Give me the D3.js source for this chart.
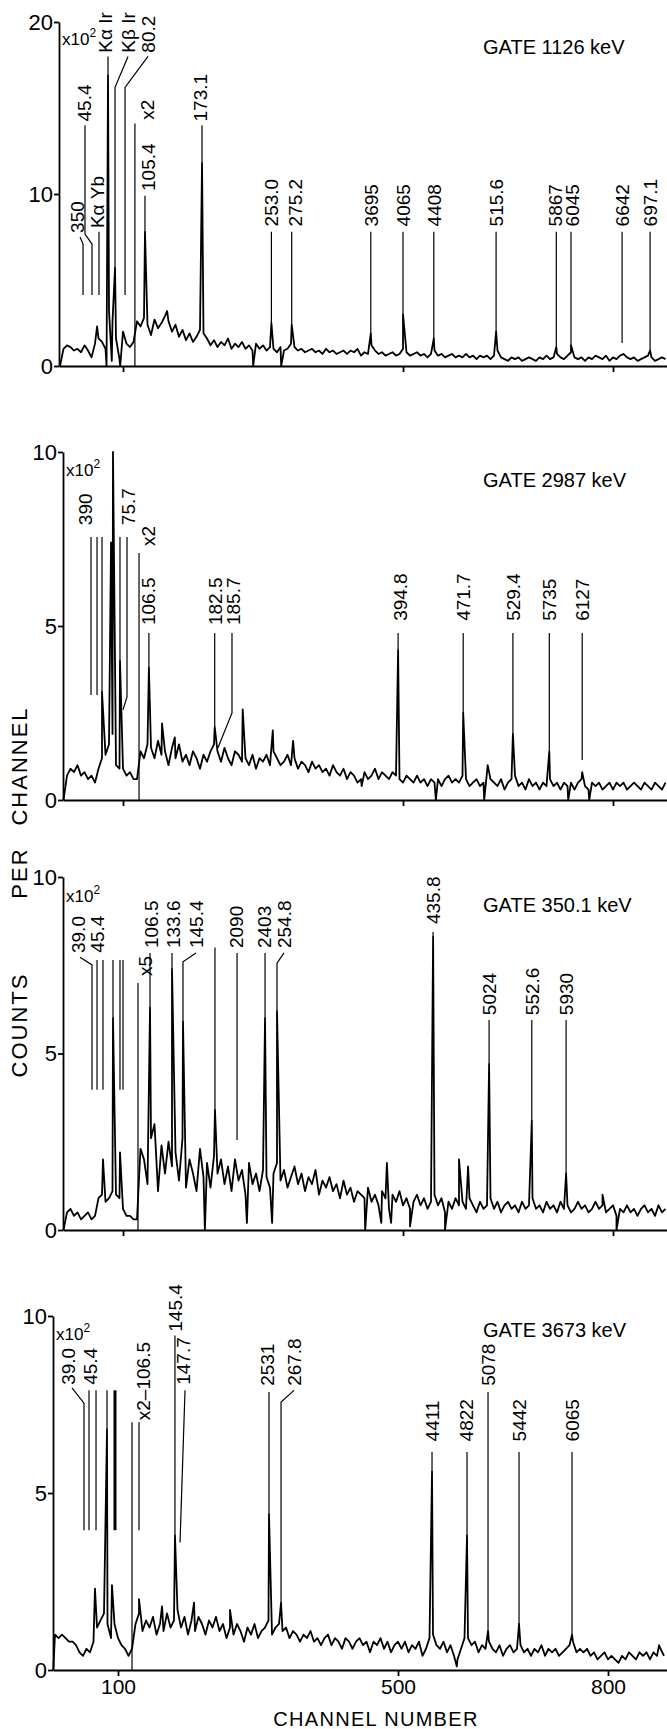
<!DOCTYPE html>
<html>
<head>
<meta charset="utf-8">
<script src="https://cdn.jsdelivr.net/npm/d3@7"></script>
<style>
  body { margin: 0; background: #fff; }
  svg { display: block; }
  text { font-family: "Liberation Sans", Arial, sans-serif; fill: #000; }
</style>
</head>
<body>
<script>
// ---- data (counts in units of 10^2 per channel, already with the x2 / x5 gain applied) ----
const gates = ["GATE 1126 keV", "GATE 2987 keV", "GATE 350.1 keV", "GATE 3673 keV"];
const yMax = [20, 10, 10, 10];
const xTicks = [100, 500, 800];
const startCh = [10, 15, 15, 10];   // channel of first value in each counts array
const stepCh = 5;

const counts1126 = [
  0,1.0,1.2,1.1,0.9,1.0,0.8,1.2,0.9,0.5,
  1.3,1.6,1.4,1.0,3.2,2.6,1.6,0.4,2.0,1.3,
  1.1,1.4,2.6,2.3,2.8,2.4,1.8,2.7,2.2,2.5,
  2.9,2.6,2.0,2.4,1.7,2.1,1.5,1.9,1.4,1.7,
  2.1,1.9,1.6,1.2,1.5,1.1,1.4,1.2,1.6,1.0,
  1.3,1.1,1.4,1.0,1.2,0.9,1.3,1.0,1.2,0.9,
  1.1,1.0,0.8,1.1,0.9,1.0,1.3,1.1,0.9,1.0,
  0.8,0.9,1.0,0.8,0.9,0.7,1.0,0.8,0.9,0.7,
  0.8,0.9,0.7,0.9,0.8,1.0,0.6,0.8,0.7,1.2,
  0.9,0.7,0.8,0.6,0.7,0.8,0.6,0.7,1.0,0.8,
  0.6,0.7,0.8,0.6,0.7,0.5,0.7,0.9,0.6,0.7,
  0.5,0.6,0.7,0.5,0.6,0.5,0.7,0.5,0.6,0.4,
  0.6,0.5,0.6,0.4,0.6,0.9,0.5,0.4,0.3,0.5,
  0.4,0.5,0.3,0.4,0.5,0.4,0.3,0.5,0.4,0.6,
  0.4,0.5,0.7,0.5,0.4,0.6,0.8,0.5,0.4,0.5,
  0.3,0.5,0.4,0.6,0.5,0.4,0.6,0.3,0.5,0.4,
  0.6,0.7,0.5,0.4,0.5,0.3,0.4,0.5,0.6,0.5,
  0.3,0.4,0.5,0.4,0.5
];
const spikes1126 = [[63,2.3],[76.5,0],[78.6,16.9],[84,0.3],[88.6,5.7],[96,0],[131.4,7.8],[163,3.2],
  [212.9,11.8],[286,0],[312,2.5],[326,0],[341,2.4],[454,1.9],[500,3.0],[544,1.6],[633,2.0],
  [719,1.1],[740,1.2],[853,0.9]];

const counts2987 = [
  0,0.7,0.9,0.8,1.0,0.7,0.8,0.6,0.7,0.5,
  0.9,1.2,1.3,1.6,1.9,1.0,0.9,0.9,0.7,0.8,
  0.6,0.6,1.4,1.2,1.6,1.5,1.2,1.7,1.3,1.4,
  1.0,1.5,1.2,1.6,1.1,1.3,1.0,1.4,1.2,0.9,
  1.3,1.1,1.4,1.6,1.4,1.1,1.5,1.2,1.0,1.4,
  1.3,1.1,1.2,1.0,1.3,0.9,1.2,1.1,1.3,1.0,
  1.4,1.2,1.0,1.1,1.3,1.0,1.2,0.9,1.1,1.0,
  0.8,1.1,0.9,1.0,0.8,0.9,0.7,1.0,0.8,0.7,
  0.9,0.6,0.8,0.7,0.5,0.6,0.8,0.6,0.7,0.9,
  0.6,0.8,0.7,0.6,0.8,0.7,0.6,0.5,0.7,0.6,
  0.5,0.7,0.5,0.6,0.4,0.6,0.5,0.6,0.4,0.6,
  0.7,0.5,0.6,0.5,0.7,0.6,0.4,0.5,0.6,0.4,
  0.5,0.8,0.6,0.5,0.4,0.6,0.3,0.5,0.6,0.7,
  0.4,0.5,0.3,0.6,0.4,0.5,0.3,0.5,0.4,0.6,
  0.4,0.5,0.3,0.5,0.4,0.5,0.3,0.5,0.6,0.4,
  0.3,0.5,0.4,0.5,0.3,0.4,0.5,0.3,0.5,0.4,
  0.5,0.3,0.4,0.5,0.4,0.3,0.5,0.4,0.3,0.5,
  0.4,0.3,0.5,0.4
];
const spikes2987 = [[70,3.1],[82.9,7.4],[85.7,10.0],[95.7,4.0],[137,3.8],[155.7,2.2],[174,1.8],
  [231,2.1],[271,2.6],[314,2.0],[343,1.7],[441,0.4],[493,4.3],[547,0],[586,2.5],[616,0],
  [621,1.0],[657,1.9],[709,1.4],[736,0],[756,0.8],[766,0]];

const counts3501 = [
  0,0.5,0.6,0.4,0.5,0.3,0.4,0.5,0.3,0.4,
  0.9,1.0,0.8,0.9,1.1,1.0,0.9,0.6,0.4,0.4,
  0.3,0.3,2.3,2.0,1.3,2.6,3.0,1.1,2.4,1.6,
  2.5,1.8,2.2,1.4,2.6,1.2,2.0,1.6,1.1,2.3,
  1.5,1.9,1.2,2.1,1.6,2.0,1.3,1.8,1.1,2.0,
  1.4,1.7,1.0,1.9,1.3,1.6,1.1,1.7,1.5,1.2,
  1.6,1.9,1.4,1.7,1.2,1.5,1.8,1.3,1.6,1.1,
  1.5,1.3,1.7,1.0,1.4,1.2,1.5,1.1,1.3,0.9,
  1.4,1.0,1.2,0.8,1.1,1.0,0.9,1.2,0.8,1.0,
  0.7,1.1,0.9,0.6,1.0,0.8,1.1,0.7,0.9,0.6,
  0.8,1.0,0.7,0.9,0.6,0.8,1.0,0.7,0.9,0.5,
  0.8,0.6,0.9,0.7,0.8,0.6,0.9,0.7,0.5,0.8,
  0.6,0.7,0.9,0.6,0.8,0.5,0.7,0.8,0.6,0.7,
  0.5,0.8,0.6,0.7,0.9,0.6,0.7,0.5,0.8,0.6,
  0.7,0.5,0.8,0.6,0.7,0.5,0.6,0.8,0.6,0.7,
  0.5,0.6,0.8,0.6,0.7,0.5,0.6,0.7,0.4,0.6,
  0.5,0.7,0.5,0.6,0.4,0.6,0.7,0.5,0.6,0.4,
  0.7,0.5,0.6,0.5
];
const spikes3501 = [[71.4,2.0],[85.7,6.0],[95.7,2.2],[138.6,6.3],[170,7.4],[185.7,5.9],[217,0],
  [231.4,3.4],[277,0.2],[302.9,6.0],[313,0.2],[320,6.2],[446,0],[469,0.2],[477,1.9],[483,0.2],
  [510,0.1],[543,8.3],[560,0],[580,2.0],[593,1.8],[623,4.7],[684,3.1],[733,1.6],[785,1.0],[805,0]];

const counts3673 = [
  1.0,0.9,1.0,0.9,0.8,0.8,0.7,0.5,0.4,0.6,
  0.5,0.8,1.2,1.4,1.6,1.3,0.9,1.3,0.9,0.7,
  0.6,0.4,0.6,1.3,1.6,1.1,1.4,1.2,1.5,1.0,
  1.3,1.1,1.6,1.2,1.4,1.7,1.2,1.5,1.0,1.4,
  1.1,1.5,1.3,1.0,1.4,1.2,1.5,1.1,1.3,0.9,
  1.2,1.0,1.3,1.1,0.8,1.2,1.0,1.3,0.9,1.1,
  1.2,1.4,1.0,1.2,1.3,1.1,1.2,0.9,1.1,1.0,
  0.8,1.0,0.9,1.1,0.8,0.9,0.7,0.9,1.0,0.7,
  0.9,0.8,0.6,0.9,0.8,0.6,0.8,0.9,0.7,0.8,
  0.5,0.8,0.7,0.9,0.6,0.8,0.5,0.7,0.8,0.6,
  0.8,0.5,0.7,0.6,0.8,0.4,0.6,0.9,1.0,0.7,
  0.6,0.8,0.5,0.7,0.4,0.3,0.6,0.9,0.9,0.7,
  0.8,0.5,0.7,0.6,0.8,0.6,0.5,0.7,0.4,0.6,
  0.7,0.5,0.6,0.7,0.5,0.6,0.4,0.6,0.5,0.7,
  0.4,0.6,0.5,0.6,0.4,0.5,0.6,0.7,0.8,0.5,
  0.6,0.5,0.6,0.4,0.5,0.3,0.4,0.5,0.3,0.4,
  0.3,0.2,0.4,0.3,0.5,0.4,0.3,0.5,0.4,0.5,
  0.3,0.5,0.4,0.6,0.4,0.5
];
const spikes3673 = [[7.5,0],[67.1,2.3],[84.3,6.8],[91.4,2.4],[130,2.0],[162.9,1.8],[181.4,3.8],
  [208.6,1.9],[260,1.7],[315.7,4.4],[332.9,1.9],[548.6,5.6],[584,0.1],[598.6,3.8],[628.6,1.1],
  [672.9,1.3],[748.6,1.0],[873,0.7]];

// peak labels: [text, channel, text dx(px), text bottom, line top, line end, bend [dx, vTop, vBottom], line width]
const lines1126 = [
  ["350", 42.9, -6, 7.62, 7.5, 4.13, [-3, 7.5, 7.09]],
  ["45.4", 55.7, -8, 14.1, 14.0, 4.13, [-7, 7.67, 7.09]],
  ["Kα Yb", 65.7, -2, 7.9, 7.8, 4.13],
  ["Kα Ir", 78.6, -3, 18.1, 18.0, 16.9],
  ["Kβ Ir", 88.6, 13, 18.1, 18.0, 5.7, [13, 18.0, 16.2]],
  ["80.2", 102.9, 23, 18.1, 18.0, 4.13, [23, 18.0, 16.2]],
  ["x2", 117, 12, 14.2, 14.1, 0],
  ["105.4", 131.4, 3, 10.06, 9.9, 7.8],
  ["173.1", 212.9, -2, 14.1, 14.0, 11.8],
  ["253.0", 312, 0, 8.0, 7.8, 2.5],
  ["275.2", 341, 3, 8.0, 7.8, 2.4],
  ["3695", 454, 0, 8.0, 7.8, 1.9],
  ["4065", 500, 0, 8.0, 7.8, 3.0],
  ["4408", 544, 0, 8.0, 7.8, 1.6],
  ["515.6", 633, 0, 8.0, 7.8, 2.0],
  ["5867", 719, -1.5, 8.0, 7.8, 1.1],
  ["6045", 740, 1.5, 8.0, 7.8, 1.2],
  ["6642", 813, 0, 8.0, 7.8, 1.34],
  ["697.1", 853, 0, 8.0, 7.8, 0.9]
];
const lines2987 = [
  ["390", 54.3, -6, 7.84, 7.56, 3.02],
  ["", 62.9, 0, 0, 7.56, 3.02],
  ["", 70, 0, 0, 7.56, 3.1],
  ["", 95.7, 0, 0, 7.56, 4.0],
  ["75.7", 100, 5, 7.84, 7.56, 2.59, [4, 2.96, 2.59]],
  ["x2", 122.9, 9, 7.24, 7.1, 0],
  ["106.5", 137, -1, 4.97, 4.8, 3.8],
  ["182.5", 231, 0, 4.97, 4.8, 2.1],
  ["185.7", 235.7, 15, 4.97, 4.8, 1.5, [14, 2.5, 1.5]],
  ["394.8", 493, 2, 5.09, 4.8, 4.3],
  ["471.7", 586, 0, 5.09, 4.8, 2.5],
  ["529.4", 657, 0, 5.09, 4.8, 1.9],
  ["5735", 709, 0, 5.09, 4.8, 1.4],
  ["6127", 756, 0, 5.09, 4.8, 1.15]
];
const lines3501 = [
  ["39.0", 55.7, -14, 7.79, 7.73, 3.97, [-12, 7.73, 7.51]],
  ["45.4", 62.9, 0, 7.8, 7.65, 3.97],
  ["", 71.4, 0, 0, 7.65, 3.97],
  ["", 85.7, 0, 0, 7.65, 6.0],
  ["", 95.7, 0, 0, 7.65, 3.97],
  ["", 100, 0, 0, 7.65, 3.97],
  ["x5", 121.4, 7, 7.14, 7.0, 0],
  ["106.5", 138.6, 1, 7.93, 7.85, 6.3],
  ["133.6", 170, 1, 7.93, 7.85, 7.4],
  ["145.4", 185.7, 13, 7.93, 7.85, 5.9, [13, 7.85, 7.6]],
  ["", 231.4, 0, 0, 8.0, 3.4],
  ["2090", 262.9, -1, 7.93, 7.85, 2.55],
  ["2403", 302.9, -1, 7.93, 7.85, 6.0],
  ["254.8", 320, 7, 7.93, 7.85, 6.2, [7, 7.85, 7.56]],
  ["435.8", 543, 0, 8.61, 8.44, 8.3],
  ["5024", 623, 0, 6.03, 5.95, 4.7],
  ["552.6", 684, 0, 6.03, 5.95, 3.1],
  ["5930", 733, 0, 6.03, 5.95, 1.6]
];
const lines3673 = [
  ["39.0", 51.4, -16, 8.0, 7.97, 3.95, [-12, 7.97, 7.54]],
  ["45.4", 58.6, 1, 8.0, 7.9, 3.95],
  ["", 68.6, 0, 0, 7.9, 3.95],
  ["", 84.3, 0, 0, 7.9, 6.8],
  ["", 95.7, 0, 0, 7.9, 3.95, null, 3],
  ["x2–106.5", 120, 11, 7.0, 7.0, 0],
  ["", 130, 0, 0, 7.0, 3.95],
  ["145.4", 181.4, 0, 9.5, 9.45, 3.8],
  ["147.7", 188.6, 3, 8.0, 7.9, 3.6, [5, 7.9, 3.6]],
  ["2531", 315.7, -2, 7.97, 7.85, 4.4],
  ["267.8", 332.9, 13, 7.97, 7.9, 1.9, [13, 7.9, 7.57]],
  ["4411", 548.6, 0, 6.4, 6.16, 5.6],
  ["4822", 598.6, -1, 6.4, 6.16, 3.8],
  ["5078", 628.6, 0, 7.97, 7.85, 1.05],
  ["5442", 672.9, 0, 6.4, 6.16, 1.3],
  ["6065", 748.6, 0, 6.4, 6.16, 1.0]
];

// ---- layout ----
const W = 667, H = 1729;
const chPx = 0.70;  // px per channel
const layout = [
  {top: 22,   base: 366,  axisX: 59, x100: 123, gateY: 54,   unitY: 45},
  {top: 452,  base: 800,  axisX: 63, x100: 123, gateY: 487,  unitY: 476},
  {top: 877,  base: 1230, axisX: 63, x100: 123, gateY: 912,  unitY: 902},
  {top: 1316, base: 1670, axisX: 53, x100: 118, gateY: 1337, unitY: 1340}
];
const panels = [
  {counts: counts1126, spikes: spikes1126, lines: lines1126},
  {counts: counts2987, spikes: spikes2987, lines: lines2987},
  {counts: counts3501, spikes: spikes3501, lines: lines3501},
  {counts: counts3673, spikes: spikes3673, lines: lines3673}
];

const svg = d3.select("body").append("svg")
  .attr("width", W)
  .attr("height", H);

panels.forEach((p, i) => {
  const L = layout[i];
  let x = d3.scaleLinear().domain([100, 800]).range([L.x100, L.x100 + 700 * chPx]);
  x.domain([x.invert(L.axisX), x.invert(W)]).range([L.axisX, W]);
  const y = d3.scaleLinear().domain([0, yMax[i]]).range([L.base, L.top]);
  const g = svg.append("g");

  // spectrum
  const [c0, c1] = x.domain();
  const pts = p.counts.map((v, k) => [startCh[i] + k * stepCh, v])
    .concat(p.spikes)
    .filter(d => d[0] >= c0 && d[0] <= c1)
    .sort((a, b) => a[0] - b[0]);
  g.append("path")
    .attr("d", d3.line().x(d => x(d[0])).y(d => y(d[1]))(pts))
    .attr("fill", "none")
    .attr("stroke", "#000")
    .attr("stroke-width", 1.8)
    .attr("stroke-linejoin", "round");

  // axes
  const ya = d3.axisLeft(y).tickValues([0, yMax[i] / 2, yMax[i]])
    .tickSize(5).tickPadding(1).tickSizeOuter(0);
  const yg = g.append("g").attr("transform", `translate(${L.axisX},0)`).call(ya)
    .attr("font-family", null).attr("font-size", 22);
  yg.selectAll("path, line").attr("stroke-width", 1.8);

  const xa = d3.axisBottom(x).tickValues(xTicks).tickSize(6).tickSizeOuter(0)
    .tickFormat(i === 3 ? d3.format("d") : () => "");
  const xg = g.append("g").attr("transform", `translate(0,${L.base})`).call(xa)
    .attr("font-family", null).attr("font-size", 21);
  xg.selectAll("path, line").attr("stroke-width", 1.8);

  // x10^2 unit
  const u = g.append("text").attr("x", L.axisX + 3).attr("y", L.unitY).attr("font-size", 17);
  u.append("tspan").text("x10");
  u.append("tspan").attr("font-size", 12).attr("dy", -8).text("2");

  // gate title
  g.append("text").attr("x", 483).attr("y", L.gateY).attr("font-size", 20).text(gates[i]);

  // peak markers and labels
  const leader = d => {
    const lx = x(d[1]);
    const out = [];
    if (d[6]) {
      out.push([lx + d[6][0], y(d[4])], [lx + d[6][0], y(d[6][1])], [lx, y(d[6][2])]);
    } else {
      out.push([lx, y(d[4])]);
    }
    out.push([lx, y(d[5])]);
    return d3.line()(out);
  };
  const lab = g.append("g").selectAll("g").data(p.lines).join("g");
  lab.append("path")
    .attr("d", leader)
    .attr("fill", "none")
    .attr("stroke", "#000")
    .attr("stroke-width", d => d[7] || 1.2);
  lab.filter(d => d[0]).append("text")
    .attr("transform", d => `translate(${x(d[1]) + d[2]},${y(d[3]) - 2}) rotate(-90)`)
    .attr("dy", "0.36em")
    .attr("font-size", 19)
    .text(d => d[0]);
});

// axis titles
const yTitle = [["CHANNEL", 766], ["PER", 873], ["COUNTS", 1025]];
svg.selectAll(".ytitle").data(yTitle).join("text")
  .attr("class", "ytitle")
  .attr("transform", d => `translate(19,${d[1]}) rotate(-90)`)
  .attr("text-anchor", "middle")
  .attr("dy", "0.36em")
  .attr("font-size", 22)
  .attr("letter-spacing", 2)
  .text(d => d[0]);

svg.append("text")
  .attr("x", 376).attr("y", 1726)
  .attr("text-anchor", "middle")
  .attr("font-size", 20)
  .attr("letter-spacing", 1.3)
  .text("CHANNEL NUMBER");
</script>
</body>
</html>
